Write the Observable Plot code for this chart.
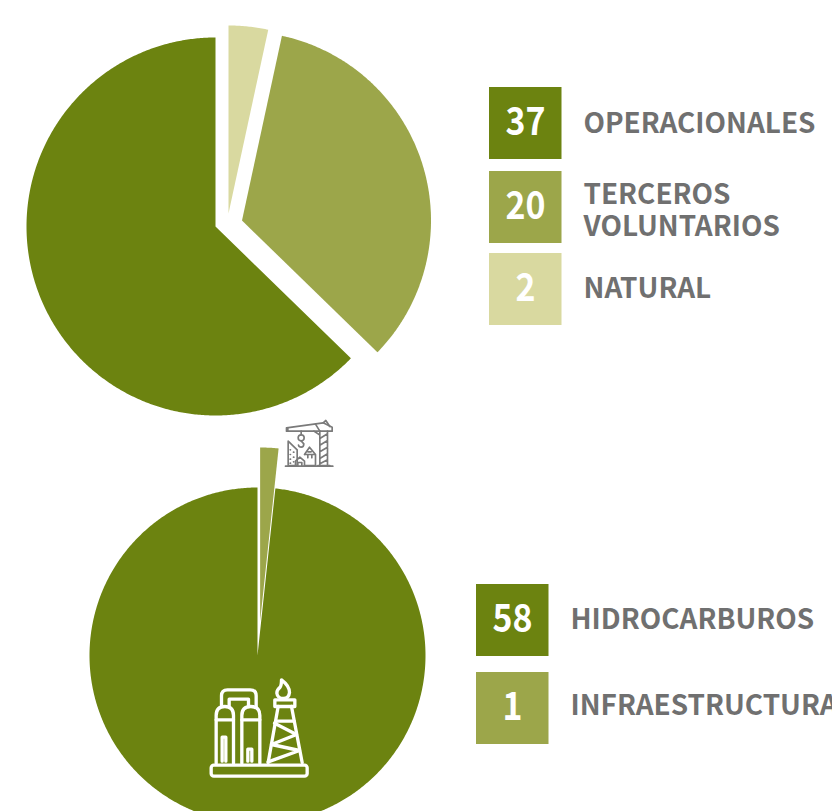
<!DOCTYPE html>
<html lang="es">
<head>
<meta charset="utf-8">
<script src="https://cdn.jsdelivr.net/npm/d3@7"></script>
<script src="https://cdn.jsdelivr.net/npm/@observablehq/plot@0.6"></script>
<style>
html,body{margin:0;padding:0;background:#fff;width:832px;height:811px;overflow:hidden}
</style>
</head>
<body>
<div id="chart"></div>
<script>
// Data
const causeLabels = ["OPERACIONALES", "TERCEROS\nVOLUNTARIOS", "NATURAL"];
const causeValues = [37, 20, 2];
const sectorLabels = ["HIDROCARBUROS", "INFRAESTRUCTURA"];
const sectorValues = [58, 1];

// Styles
const DARK = "#6c8310", MID = "#9ca64a", LIGHT = "#d9d9a0", GREY = "#707070";
const causeColors = [DARK, MID, LIGHT];
const sectorColors = [DARK, MID];
const FONT = "'Noto Sans CJK SC','Noto Sans',sans-serif";

// Pie layout: clockwise from 12 o'clock, one share per value
function slices(values, colors, order, layout, name) {
  const total = d3.sum(values);
  let a = 0;
  const pts = [];
  for (const i of order) {
    const span = (values[i] / total) * 360;
    const {cx, cy, r} = layout[i];
    const id = `${name}-${i}`;
    const push = (x, y) => pts.push({id, x, y, color: colors[i]});
    push(cx, cy);
    const n = Math.max(2, Math.ceil(span * 2));
    for (let k = 0; k <= n; ++k) {
      const t = ((a + (span * k) / n) * Math.PI) / 180;
      push(cx + r * Math.sin(t), cy - r * Math.cos(t));
    }
    push(cx, cy);
    a += span;
  }
  return pts;
}

const causeLayout = [
  {cx: 215, cy: 226, r: 189},
  {cx: 241.5, cy: 220, r: 189},
  {cx: 228, cy: 213, r: 188}
];
const sectorLayout = [
  {cx: 257, cy: 655, r: 168},
  {cx: 259.6, cy: 621, r: 174}
];
const slicePoints = [
  ...slices(causeValues, causeColors, [2, 1, 0], causeLayout, "cause"),
  ...slices(sectorValues, sectorColors, [1, 0], sectorLayout, "sector")
];

// Legends
const causeRows = [{y: 87, ty: 122}, {y: 171, ty: 209}, {y: 253, ty: 287}];
const sectorRows = [{y: 584, ty: 618}, {y: 672, ty: 704}];
const legendRows = [
  ...causeLabels.map((label, i) => ({label, value: causeValues[i], color: causeColors[i], x: 489, tx: 583, y: causeRows[i].y, ty: causeRows[i].ty})),
  ...sectorLabels.map((label, i) => ({label, value: sectorValues[i], color: sectorColors[i], x: 476, tx: 570, y: sectorRows[i].y, ty: sectorRows[i].ty}))
];

// Icons
const craneSvg = `<svg xmlns="http://www.w3.org/2000/svg" viewBox="0 0 420 300"><g fill="none" stroke="#7a7a7a" stroke-width="5" stroke-linejoin="round" stroke-linecap="round"><path d="M255 167H397"/><path d="M258 52L368 37L395 50V62H258Z"/><path d="M262 52V62M345 41L358 62M368 37L376 30L388 48M340 62L356 72"/><path d="M358 62V165M381 62V165M358 84L381 70M358 104L381 90M358 124L381 110M358 144L381 130M358 160L381 148"/><path d="M352 165H388"/><path d="M302 62V72"/><circle cx="302" cy="82" r="9"/><path d="M302 91L310 100Q310 110 302 110Q295 110 294 104"/><path d="M263 165V92L290 118V165Z"/><path d="M269 118h1M279 125h1M269 132h1M279 140h1M269 146h1M279 154h1M269 158h1" stroke-width="5"/><path d="M285 165V152L298 140L312 152V165M292 165V156H304V165"/><path d="M312 132L327 110L345 132V165H312M312 132H345M322 124h10M322 134v8M334 134v8"/></g></svg>`;
const refinerySvg = `<svg xmlns="http://www.w3.org/2000/svg" viewBox="0 0 375 345"><g fill="none" stroke="#fff" stroke-width="10" stroke-linejoin="round" stroke-linecap="round"><rect x="47" y="284" width="288" height="33" rx="8"/><path d="M62 278V135Q62 108 88 108Q114 108 114 135V278"/><path d="M139 278V135Q139 108 166 108Q193 108 193 135V278"/><path d="M62 148H114M139 148H193"/><path d="M78 108V76Q78 58 96 58H164Q182 58 182 76V110"/><path d="M101 108V86H159V108"/><path d="M80 272V200H91V272M157 272V236H169V272"/><path d="M238 108V88H298V108H238Z"/><path d="M248 108L218 276M288 108L320 276"/><path d="M240 152H296M237 158L303 192M303 192L228 222M228 222L312 240M312 240L218 274"/><path d="M258 28Q282 46 282 66Q280 84 264 84Q246 84 244 68Q244 58 254 50Q258 44 258 28Z"/></g></svg>`;
const uri = s => "data:image/svg+xml;utf8," + encodeURIComponent(s);
const icons = [
  {src: uri(craneSvg), x: 270, y: 460, w: 140, h: 100},
  {src: uri(refinerySvg), x: 257.5, y: 727.5, w: 125, h: 115}
];

const chart = Plot.plot({
  width: 832,
  height: 811,
  margin: 0,
  style: {background: "#fff"},
  x: {domain: [0, 832], range: [0, 832], axis: null},
  y: {domain: [0, 811], range: [0, 811], axis: null},
  marks: [
    Plot.line(slicePoints, {x: "x", y: "y", z: "id", fill: "color", stroke: null, curve: "linear"}),
    Plot.rect(legendRows, {x1: "x", x2: d => d.x + 72.5, y1: "y", y2: d => d.y + 72, fill: "color"}),
    Plot.text(legendRows, {x: d => d.x + 36, y: d => d.y + 35.5, text: d => String(d.value), fill: "#fff", fontFamily: FONT, fontWeight: 700, fontSize: 39, textAnchor: "middle", className: "num"}),
    Plot.text(legendRows, {x: d => d.tx, y: "ty", text: "label", fill: GREY, fontFamily: FONT, fontWeight: 700, fontSize: 27.9, textAnchor: "start", lineHeight: 1.147, className: "lab"}),
    ...icons.map(ic => Plot.image([ic], {x: "x", y: "y", src: "src", width: ic.w, height: ic.h}))
  ]
});
// Reference numerals are condensed
chart.querySelectorAll(".num text").forEach(t => {
  const n = t.textContent.length;
  t.setAttribute("lengthAdjust", "spacingAndGlyphs");
  t.setAttribute("textLength", n === 1 ? 20 : 40);
});
document.getElementById("chart").append(chart);
</script>
</body>
</html>
